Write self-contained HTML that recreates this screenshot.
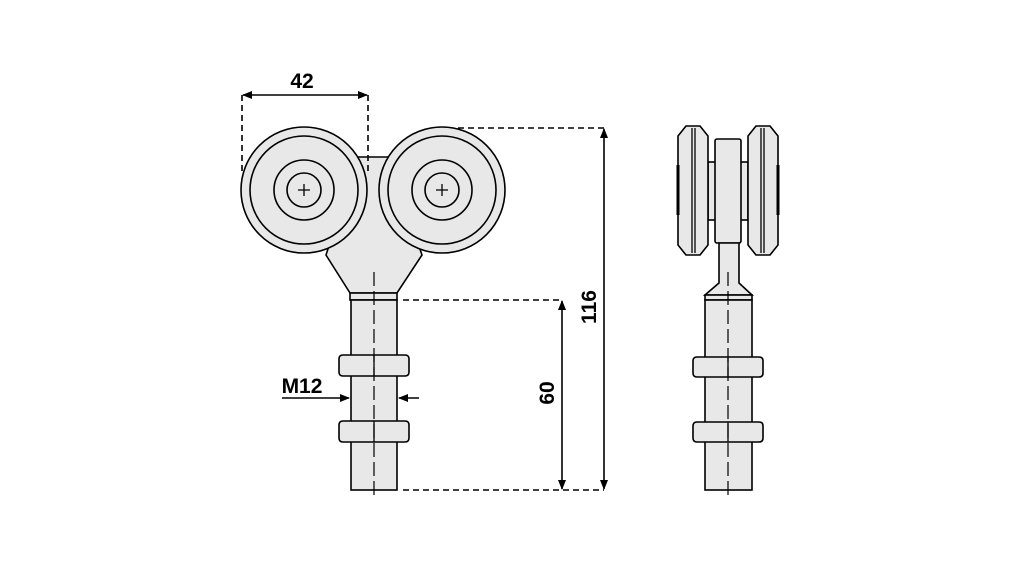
<!DOCTYPE html>
<html><head><meta charset="utf-8"><style>
html,body{margin:0;padding:0;background:#fff;}
svg{display:block}
text{font-family:"Liberation Sans",sans-serif;font-weight:bold;font-size:21px;fill:#000}
</style></head><body>
<svg width="1021" height="567" viewBox="0 0 1021 567" xmlns="http://www.w3.org/2000/svg">
<defs>
<marker id="a" markerWidth="10" markerHeight="8" refX="9" refY="4" orient="auto-start-reverse" markerUnits="userSpaceOnUse"><path d="M0,0 L10,4 L0,8 Z" fill="#000"/></marker>
</defs>
<g stroke="#000" stroke-width="1.6" fill="#e8e8e8">
<path d="M358,157 L388,157 L422,255 L397,293 L350,293 L326,255 Z"/>
<rect x="350" y="293" width="47" height="7"/>
<rect x="351" y="300" width="46" height="190"/>
<path d="M343,355 L405,355 Q409,355 409,359 L409,372 Q409,376 405,376 L343,376 Q339,376 339,372 L339,359 Q339,355 343,355 Z"/>
<path d="M343,421 L405,421 Q409,421 409,425 L409,438 Q409,442 405,442 L343,442 Q339,442 339,438 L339,425 Q339,421 343,421 Z"/>
<circle cx="304" cy="190" r="63"/>
<circle cx="304" cy="190" r="54" fill="none"/>
<circle cx="304" cy="190" r="30" fill="none"/>
<circle cx="304" cy="190" r="17" fill="none"/>
<circle cx="442" cy="190" r="63"/>
<circle cx="442" cy="190" r="54" fill="none"/>
<circle cx="442" cy="190" r="30" fill="none"/>
<circle cx="442" cy="190" r="17" fill="none"/>
</g>
<g stroke="#000" stroke-width="1.3">
<path d="M298,190 H310 M304,184 V196 M436,190 H448 M442,184 V196"/>
<path d="M374,272 V498" stroke-dasharray="14,5" stroke-width="1.2"/>
<path d="M374,355 V376 M374,421 V442"/>
</g>
<g stroke="#000" stroke-width="1.6" fill="none">
<path d="M242,95 V175 M368,95 V175 M458,128 H604 M403,300 H562 M403,490 H604" stroke-dasharray="6,4"/>
<path d="M243,95 H367" marker-end="url(#a)" marker-start="url(#a)"/>
<path d="M562,301 V489" marker-end="url(#a)" marker-start="url(#a)"/>
<path d="M604,129 V489" marker-end="url(#a)" marker-start="url(#a)"/>
<path d="M282,398 H349" marker-end="url(#a)"/>
<path d="M419,398 H399" marker-end="url(#a)"/>
</g>
<text x="302" y="88" text-anchor="middle">42</text>
<text x="302" y="393" text-anchor="middle">M12</text>
<text x="0" y="0" text-anchor="middle" transform="translate(554,393) rotate(-90)">60</text>
<text x="0" y="0" text-anchor="middle" transform="translate(596,307) rotate(-90)">116</text>
<g stroke="#000" stroke-width="1.6" fill="#e8e8e8">
<rect x="708" y="162" width="40" height="58"/>
<path d="M686,126 L700,126 L708,136 L708,245 L700,255 L686,255 L678,245 L678,136 Z"/>
<path d="M756,126 L770,126 L778,136 L778,245 L770,255 L756,255 L748,245 L748,136 Z"/>
<rect x="715" y="139" width="26" height="104" rx="2"/>
<path d="M719,243 L739,243 L739,283 L752,295 L705,295 L719,283 Z"/>
<rect x="705" y="295" width="47" height="5"/>
<rect x="705" y="300" width="47" height="190"/>
<path d="M697,357 L759,357 Q763,357 763,361 L763,373 Q763,377 759,377 L697,377 Q693,377 693,373 L693,361 Q693,357 697,357 Z"/>
<path d="M697,422 L759,422 Q763,422 763,426 L763,438 Q763,442 759,442 L697,442 Q693,442 693,438 L693,426 Q693,422 697,422 Z"/>
</g>
<g stroke="#000" stroke-width="1.3">
<path d="M692,128 V253 M695,128 V253 M761,128 V253 M764,128 V253"/>
<path d="M678,165 V215 M778,165 V215" stroke-width="3"/>
<path d="M728,272 V498" stroke-dasharray="14,5" stroke-width="1.2"/>
<path d="M728,357 V377 M728,422 V442"/>
</g>
</svg>
</body></html>
